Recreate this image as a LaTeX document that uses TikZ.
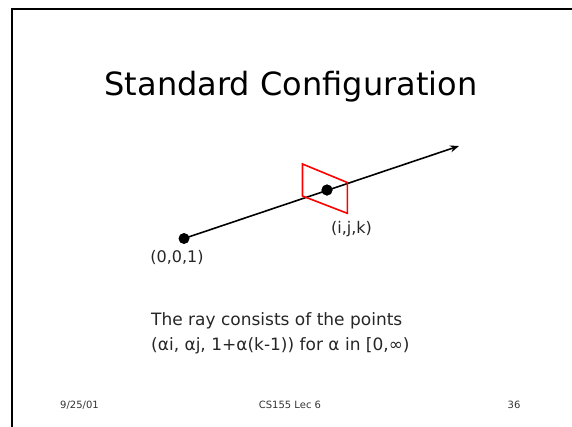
\documentclass[tikz,border=0pt]{standalone}
\usepackage{fontspec}
\setmainfont{DejaVu Sans}
\usetikzlibrary{arrows.meta}
\tikzset{
  frameline/.style={line width=2pt, black},
  ray/.style={line width=1.6pt, -{Stealth[length=9pt,width=7pt]}},
  dotpt/.style={circle, fill=black, inner sep=0pt, minimum size=11pt},
  plane/.style={draw=red, line width=1.6pt, line join=miter},
  lbl/.style={inner sep=0pt, font=\fontsize{16}{19}\selectfont, text=black!85},
  body/.style={inner sep=0pt, anchor=base west, font=\fontsize{17}{20}\selectfont, text=black!85},
  foot/.style={inner sep=0pt, anchor=base, font=\fontsize{10}{12}\selectfont, text=black!80},
}
\begin{document}
\begin{tikzpicture}[x=1pt,y=-1pt]
\useasboundingbox (0,0) rectangle (572,426);
% slide frame (top and left edges visible)
\coordinate (ftr) at (573,9);
\coordinate (ftl) at (11.5,9);
\coordinate (fbl) at (11.5,427);
\draw[frameline] (ftr) -- (ftl) -- (fbl);
% title
\node[inner sep=0pt, anchor=base, font=\fontsize{32}{38}\selectfont] (title) at (291,95) {Standard Configuration};
% points
\node[dotpt] (o) at (184,238.5) {};
\node[dotpt] (p) at (327,190) {};
\coordinate (tip) at (459,146);
% image plane
\coordinate (q1) at (302.5,164);
\coordinate (q2) at (347.3,182.5);
\coordinate (q3) at (347.3,213.3);
\coordinate (q4) at (302.5,196);
\draw[ray] (o.center) -- (tip);
\draw[plane] (q1) -- (q2) -- (q3) -- (q4) -- cycle;
\node[dotpt] at (p) {};
% labels
\node[lbl] (lo) at (177,257) {(0,0,1)};
\node[lbl] (lp) at (351.5,229) {(i,j,k)};
% body text
\node[body] (t1) at (151,325) {The ray consists of the points};
\node[body] (t2) at (151,350) {(αi, αj, 1+α(k-1)) for α in [0,∞)};
% footer
\node[foot] (f1) at (79.5,408) {9/25/01};
\node[foot] (f2) at (290,408) {CS155 Lec 6};
\node[foot] (f3) at (514,408) {36};
\end{tikzpicture}
\end{document}
